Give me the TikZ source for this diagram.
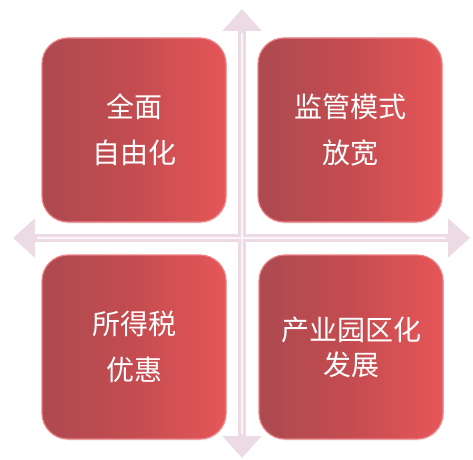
\documentclass[tikz,border=0pt]{standalone}
\usepackage{fontspec}
\newfontfamily\cjk{Noto Sans CJK SC}
\usetikzlibrary{arrows.meta,positioning,shadows}
\definecolor{boxleft}{RGB}{172,74,80}
\definecolor{boxmid}{RGB}{196,76,80}
\definecolor{boxright}{RGB}{230,86,88}
\definecolor{boxedge}{RGB}{236,128,132}
\definecolor{axisfill}{RGB}{236,218,228}
\definecolor{axislight}{RGB}{251,245,248}

\begin{document}
\begin{tikzpicture}[x=1pt, y=1pt,
		quad/.style={rounded corners=26pt, minimum width=184pt, minimum height=184pt,
			left color=boxleft, right color=boxright, middle color=boxmid,
			draw=boxedge, line width=1.2pt, text=white, align=center, inner sep=0pt,
			font=\cjk\fontsize{28}{46}\selectfont,
			drop shadow={opacity=0.15, shadow xshift=1pt, shadow yshift=-1.5pt}},
		axis/.style={draw=axisfill, line width=8pt,
			{Triangle[width=38pt,length=22pt]}-{Triangle[width=38pt,length=22pt]}},
		axishi/.style={draw=axislight, line width=2.5pt, shorten <=24pt, shorten >=24pt},
		]
	\useasboundingbox (0,0) rectangle (473,459);
	% axes
	\coordinate (ntop) at (242,450);
	\coordinate (nbot) at (242,1);
	\coordinate (nleft) at (13,221);
	\coordinate (nright) at (470,221);
	\draw[axis] (ntop) -- (nbot);
	\draw[axis] (nleft) -- (nright);
	\draw[axishi] (ntop) -- (nbot);
	\draw[axishi] (nleft) -- (nright);
	% quadrants
	\node[quad] (quanmian) at (134,329) {全面\\自由化};
	\node[quad] (jianguan) at (350,329) {监管模式\\放宽};
	\node[quad] (suodeshui) at (134,112) {所得税\\优惠};
	\node[quad, font=\cjk\fontsize{28}{35}\selectfont] (yuanqu) at (351,112) {产业园区化\\发展};
\end{tikzpicture}
\end{document}
